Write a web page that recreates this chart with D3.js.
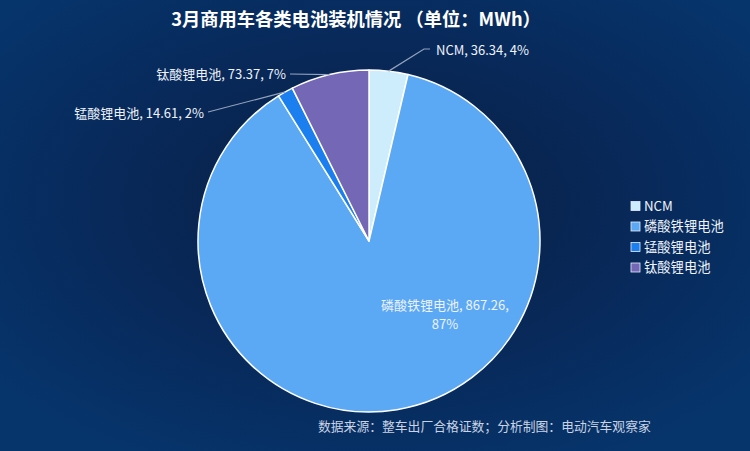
<!DOCTYPE html>
<html><head><meta charset="utf-8">
<script src="https://cdn.jsdelivr.net/npm/d3@7"></script>
<style>
html,body{margin:0;padding:0;background:#06336a;}
svg{display:block;font-family:"Microsoft YaHei","Noto Sans CJK SC","Noto Sans",sans-serif;}
</style></head>
<body>
<svg id="chart" width="750" height="451"></svg>
<script>
const categories = ["NCM", "磷酸铁锂电池", "锰酸锂电池", "钛酸锂电池"];
const values = [36.34, 867.26, 14.61, 73.37];
const percentLabels = ["4%", "87%", "2%", "7%"];
const colors = ["#cdedfd", "#5ba8f4", "#1c7ff0", "#7467b6"];
const titleText = "3月商用车各类电池装机情况 （单位：MWh）";
const sourceText = "数据来源：整车出厂合格证数；分析制图：电动汽车观察家";

const W = 750, H = 451;
const svg = d3.select("#chart");
const defs = svg.append("defs");
const grad = defs.append("radialGradient").attr("id","bg").attr("cx","50%").attr("cy","45%").attr("r","65%");
grad.append("stop").attr("offset","0%").attr("stop-color","#0a1f42");
grad.append("stop").attr("offset","55%").attr("stop-color","#08295a");
grad.append("stop").attr("offset","100%").attr("stop-color","#06356c");
svg.append("rect").attr("width",W).attr("height",H).attr("fill","url(#bg)");

svg.append("text").attr("x",356).attr("y",26).attr("text-anchor","middle")
  .attr("fill","#ffffff").attr("font-size",18.3).attr("font-weight","bold").text(titleText);

const cx = 369, cy = 241, R = 171;
const pie = d3.pie().sort(null).value(d => d)(values);
const arc = d3.arc().innerRadius(0).outerRadius(R);
const g = svg.append("g").attr("transform",`translate(${cx},${cy})`);
g.selectAll("path").data(pie).join("path")
  .attr("d", arc).attr("fill",(d,i)=>colors[i])
  .attr("stroke","#ffffff").attr("stroke-width",1.5).attr("stroke-linejoin","round");

const fmt = d3.format(".2f");
const labelText = i => `${categories[i]}, ${fmt(values[i])}, ${percentLabels[i]}`;
const outer = d => { const a = (d.startAngle + d.endAngle)/2; return [R*Math.sin(a), -R*Math.cos(a)]; };

const outside = [
  {i:0, pts:[[55,-192],[61,-192]], tx:67, ty:-191, anchor:"start"},
  {i:3, pts:[[-79,-167]], tx:-83, ty:-167, anchor:"end"},
  {i:2, pts:[[-161,-129]], tx:-165, ty:-128, anchor:"end"}
];
const lineGen = d3.line();
outside.forEach(o => {
  const p0 = outer(pie[o.i]);
  g.append("path").attr("d", lineGen([p0, ...o.pts])).attr("fill","none")
    .attr("stroke","#93a3bd").attr("stroke-width",1.2);
  g.append("text").attr("x",o.tx).attr("y",o.ty).attr("dy","0.35em")
    .attr("text-anchor",o.anchor).attr("fill","#eef3fb").attr("font-size",13)
    .text(labelText(o.i));
});
// inside label for LFP, two lines
g.append("text").attr("x",76).attr("y",64).attr("dy","0.35em").attr("text-anchor","middle")
  .attr("fill","#eef3fb").attr("font-size",13).text(`${categories[1]}, ${fmt(values[1])},`);
g.append("text").attr("x",76).attr("y",83.5).attr("dy","0.35em").attr("text-anchor","middle")
  .attr("fill","#eef3fb").attr("font-size",13).text(percentLabels[1]);

// legend
const lg = svg.append("g").attr("transform","translate(631,206)");
const rows = lg.selectAll("g").data(categories).join("g").attr("transform",(d,i)=>`translate(0,${i*20.5})`);
rows.append("rect").attr("x",0).attr("y",-4.5).attr("width",9).attr("height",9)
  .attr("fill",(d,i)=>colors[i]).attr("stroke","#e6eefa").attr("stroke-width",0.8);
rows.append("text").attr("x",13).attr("y",0).attr("dy","0.36em").attr("fill","#eef3fb")
  .attr("font-size",13.3).text(d=>d);

svg.append("text").attr("x",318).attr("y",431).attr("fill","#c9d3e3").attr("font-size",12.8).text(sourceText);
</script>
</body></html>
